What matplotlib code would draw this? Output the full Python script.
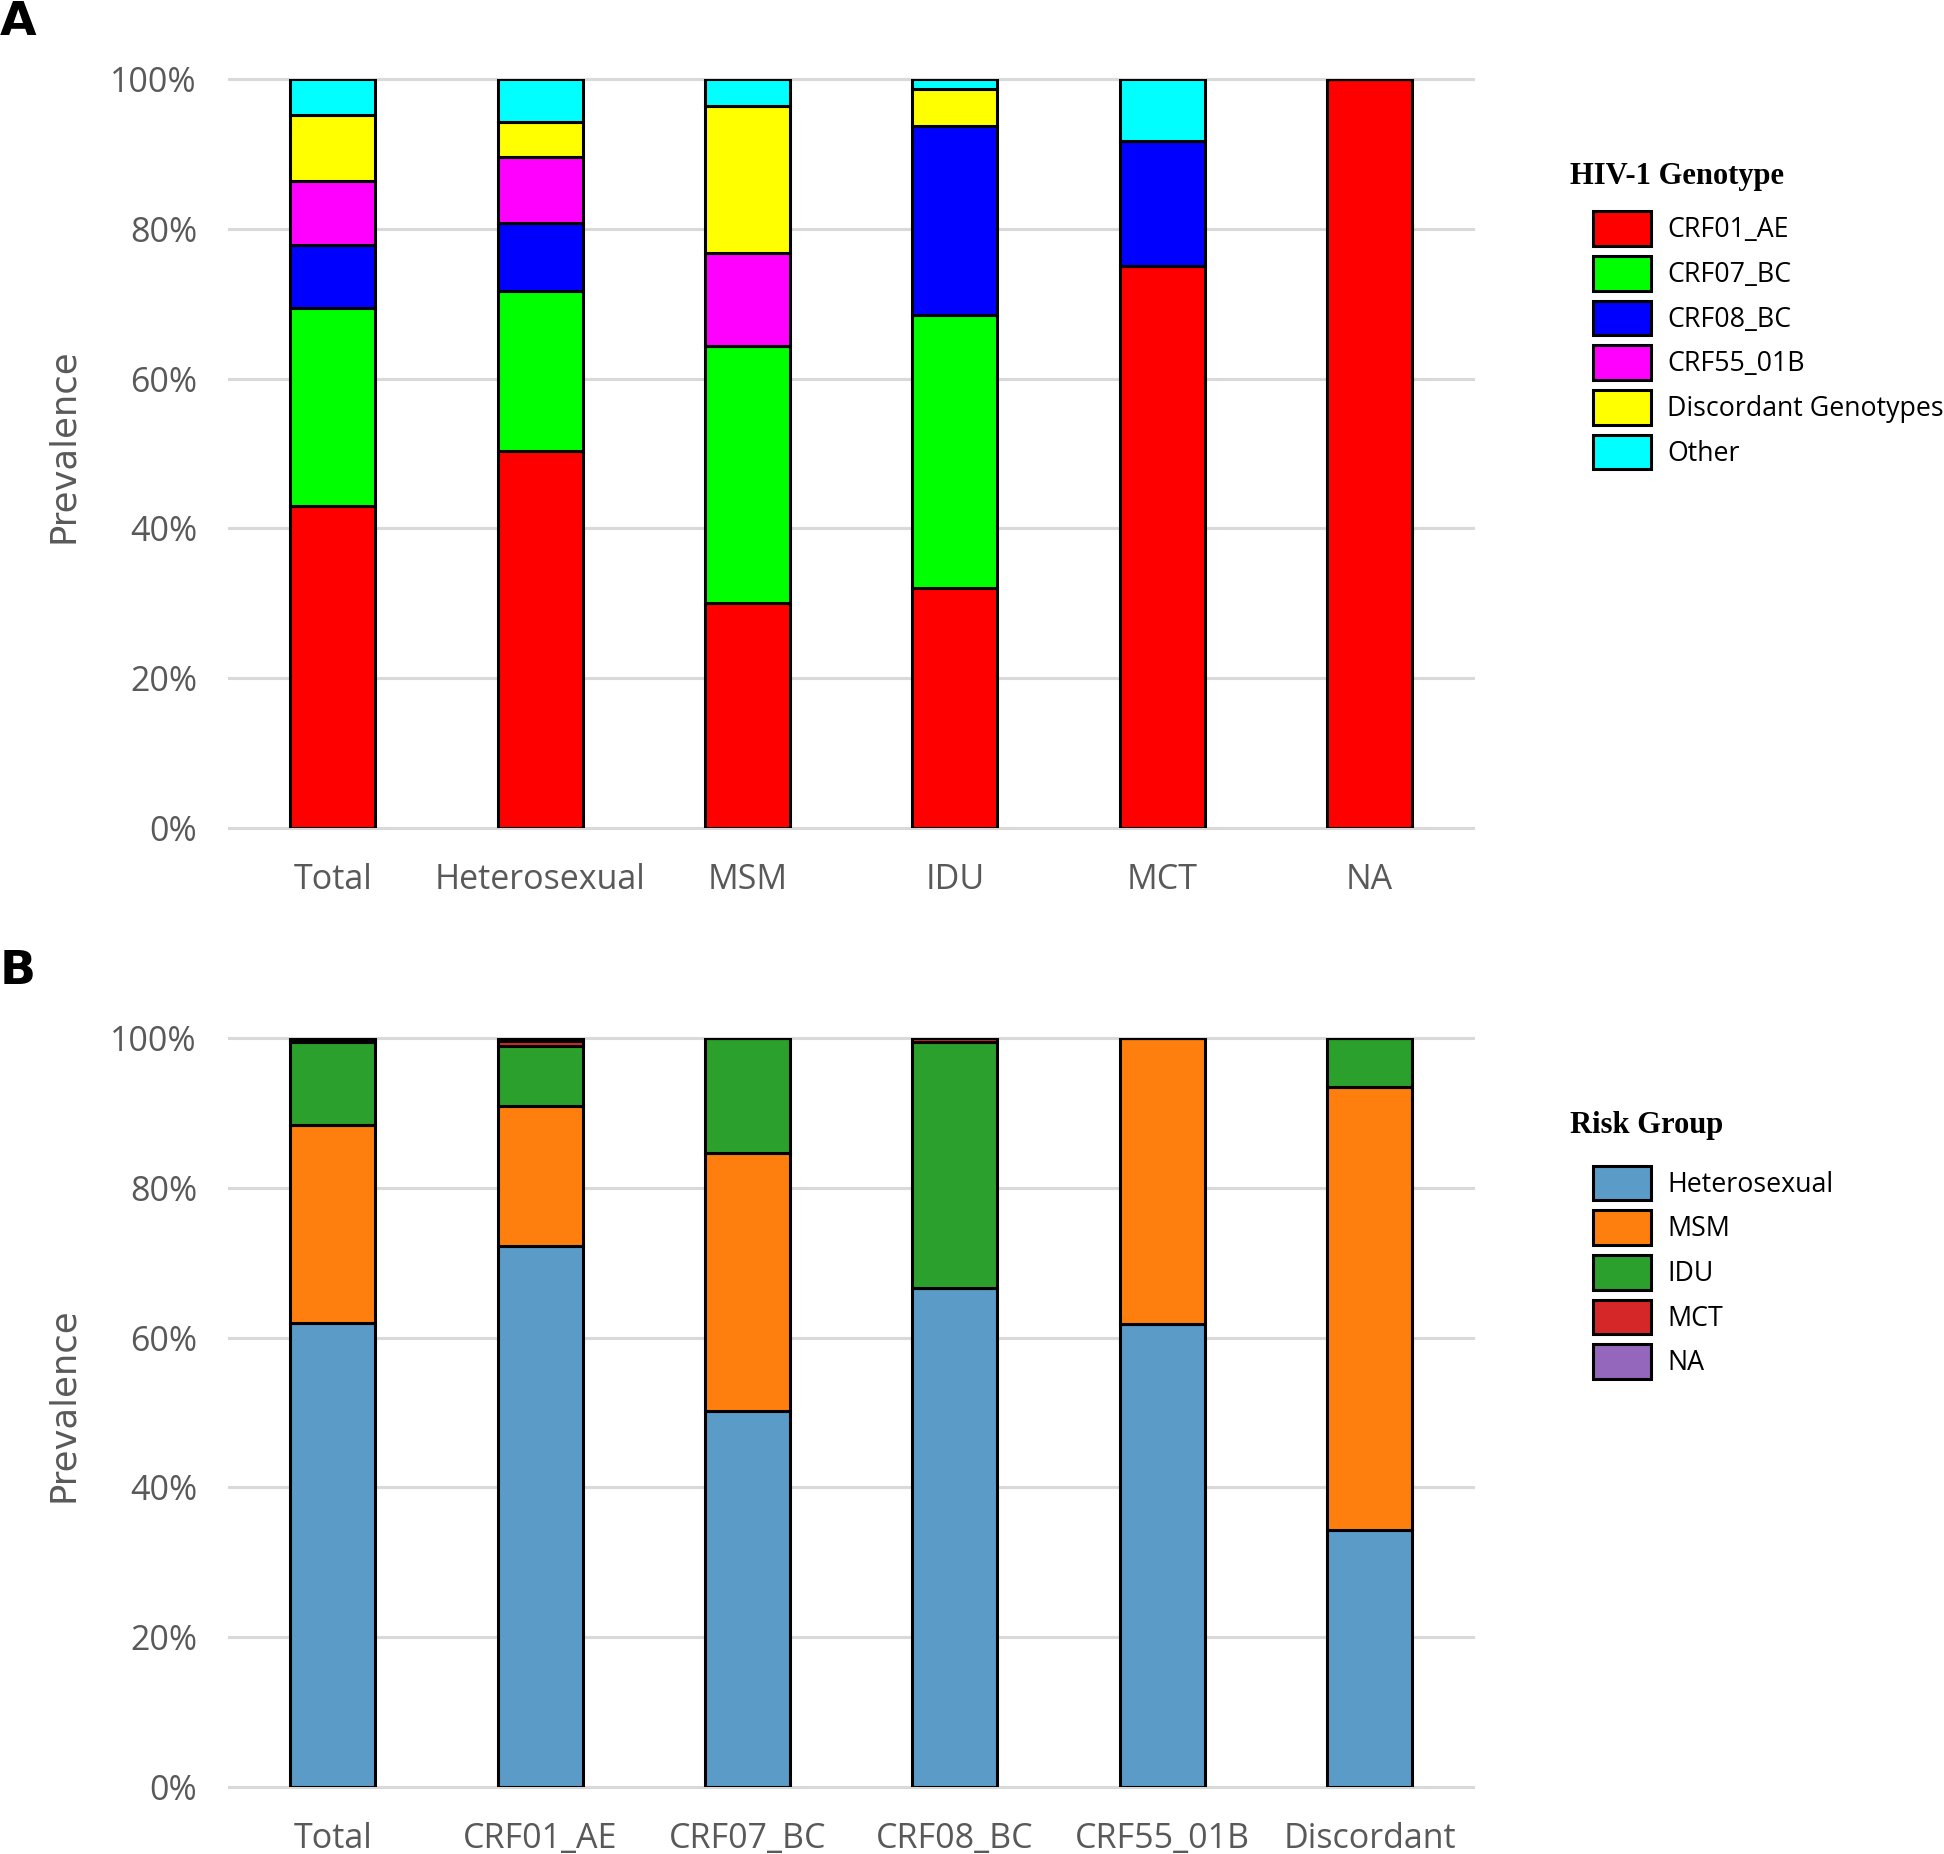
import matplotlib
matplotlib.use('Agg')
import matplotlib.pyplot as plt
from matplotlib.patches import Patch
import numpy as np

# panel A: genotype share (%) within each risk group
risk_groups = ['Total', 'Heterosexual', 'MSM', 'IDU', 'MCT', 'NA']
genotypes = ['CRF01_AE', 'CRF07_BC', 'CRF08_BC', 'CRF55_01B',
             'Discordant Genotypes', 'Other']
crf01_ae = [43.0, 50.3, 30.1, 32.1, 75.0, 100.0]
crf07_bc = [26.4, 21.4, 34.3, 36.4, 0.0, 0.0]
crf08_bc = [8.4, 9.1, 0.0, 25.2, 16.7, 0.0]
crf55_01b = [8.6, 8.8, 12.4, 0.0, 0.0, 0.0]
discordant = [8.8, 4.6, 19.6, 5.0, 0.0, 0.0]
other = [4.8, 5.8, 3.6, 1.3, 8.3, 0.0]
geno_colors = ['#ff0000', '#00ff00', '#0000ff', '#ff00ff', '#ffff00', '#00ffff']

# panel B: risk-group share (%) within each genotype
geno_cats = ['Total', 'CRF01_AE', 'CRF07_BC', 'CRF08_BC', 'CRF55_01B', 'Discordant']
risk_names = ['Heterosexual', 'MSM', 'IDU', 'MCT', 'NA']
hetero = [61.9, 72.2, 50.2, 66.6, 61.8, 34.3]
msm = [26.5, 18.7, 34.4, 0.0, 38.2, 59.2]
idu = [11.1, 8.1, 15.4, 32.9, 0.0, 6.5]
mct = [0.3, 0.6, 0.0, 0.5, 0.0, 0.0]
na_ = [0.2, 0.4, 0.0, 0.0, 0.0, 0.0]
risk_colors = ['#5b9bc8', '#ff7f0e', '#2ca02c', '#d62728', '#9467bd']

TICK_FONT = 'Open Sans'
GRAY = '#595959'

fig = plt.figure(figsize=(19.44, 18.54), dpi=100)
axA = fig.add_axes([0.1178, 0.5534, 0.640, 0.404])
axB = fig.add_axes([0.1178, 0.0361, 0.640, 0.404])


def stacked(ax, cats, series, colors, names, title, title_y, legend_top):
    x = np.arange(len(cats))
    bottom = np.zeros(len(cats))
    for vals, c in zip(series, colors):
        v = np.array(vals) / 100.0
        ax.bar(x, v, bottom=bottom, width=0.41, color=c,
               edgecolor='black', linewidth=2.2, zorder=3)
        bottom += v
    ax.set_xlim(-0.5, len(cats) - 0.5)
    ax.set_ylim(0, 1)
    ticks = np.arange(0, 1.01, 0.2)
    ax.set_yticks(ticks)
    ax.set_yticklabels([f'{int(round(t * 100))}%' for t in ticks])
    ax.set_xticks(x)
    ax.set_xticklabels(cats)
    for lab in ax.get_xticklabels() + ax.get_yticklabels():
        lab.set_fontfamily(TICK_FONT)
        lab.set_fontsize(24.5)
        lab.set_color(GRAY)
    ax.tick_params(axis='both', length=0)
    ax.tick_params(axis='y', pad=23)
    ax.tick_params(axis='x', pad=25)
    for s in ax.spines.values():
        s.set_visible(False)
    ax.set_axisbelow(True)
    ax.yaxis.grid(True, color='#d9d9d9', linewidth=2.2)
    for gl in ax.yaxis.get_gridlines():
        gl.set_clip_on(False)
    ax.set_ylabel('Prevalence', fontsize=25.5, color=GRAY, family='DejaVu Sans')
    ax.yaxis.set_label_coords(-0.120, 0.51)

    fig.text(0.8075, title_y, title, family='Liberation Serif',
             fontweight='bold', fontsize=22, va='center', ha='left')
    handles = [Patch(facecolor=c, edgecolor='black', linewidth=2.2) for c in colors]
    fig.legend(handles, names, loc='upper left',
               bbox_to_anchor=(0.8195, legend_top), frameon=False,
               prop={'family': TICK_FONT, 'size': 19.3},
               handlelength=2.16, handleheight=1.616, labelspacing=0.37,
               handletextpad=0.6, borderaxespad=0, borderpad=0)


stacked(axA, risk_groups,
        [crf01_ae, crf07_bc, crf08_bc, crf55_01b, discordant, other],
        geno_colors, genotypes, 'HIV-1 Genotype', 0.905, 0.886)
stacked(axB, geno_cats, [hetero, msm, idu, mct, na_],
        risk_colors, risk_names, 'Risk Group', 0.393, 0.3713)

fig.text(0.0, 1.0, 'A', fontsize=34, fontweight='bold', va='top', ha='left')
fig.text(0.0, 0.488, 'B', fontsize=34, fontweight='bold', va='top', ha='left')

fig.savefig('out.png', dpi=100, facecolor='white')
